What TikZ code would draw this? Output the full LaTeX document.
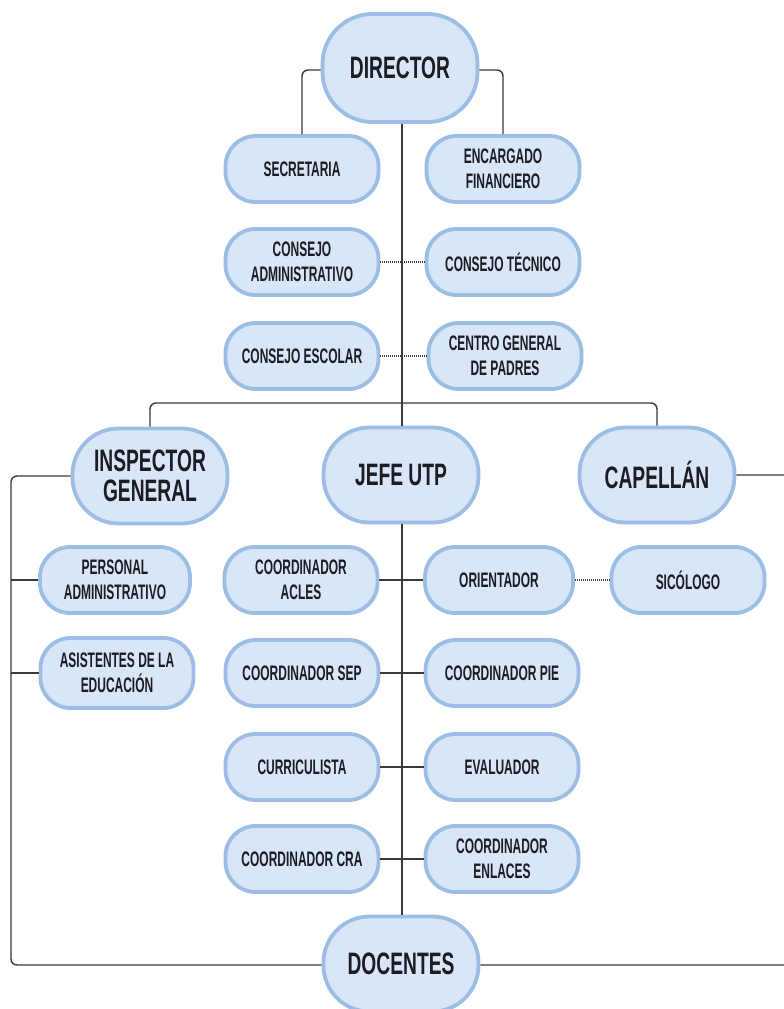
\documentclass[tikz,border=0pt]{standalone}
\usepackage{fontspec}
\setmainfont[FakeStretch=0.57]{Liberation Sans Bold}
\newfontfamily\bigfont[FakeStretch=0.62]{Liberation Sans Bold}
\definecolor{boxfill}{HTML}{D9E6F8}
\definecolor{boxline}{HTML}{9CBEE4}
\definecolor{txt}{HTML}{1C1C22}
\definecolor{conn}{HTML}{3A3A3A}
\begin{document}
\begin{tikzpicture}[x=1pt,y=-1pt,
  base/.style={draw=boxline,fill=boxfill,line width=3.8pt,rounded corners=30pt,
    text=txt,align=center,inner sep=0pt,anchor=center},
  small/.style={base,minimum width=153pt,minimum height=66pt,
    font=\fontsize{21}{25}\selectfont},
  big/.style={base,minimum width=155pt,minimum height=95pt,rounded corners=46pt,
    font=\bigfont\fontsize{31}{30}\selectfont},
  link/.style={draw=conn,line width=1.4pt,rounded corners=6pt},
  dots/.style={draw=conn,line width=1.1pt,dash pattern=on 1pt off 1pt}]
\clip (0,0) rectangle (784,1009);
\fill[white] (0,0) rectangle (784,1009);

\coordinate (bar) at (402,403);
\node[big,minimum height=108pt,rounded corners=50pt] (dir) at (400,68) {DIRECTOR};
\node[small] (sec) at (302,169) {SECRETARIA};
\node[small] (fin) at (503,169) {ENCARGADO\\FINANCIERO};
\node[small] (cadm) at (302,262) {CONSEJO\\ADMINISTRATIVO};
\node[small] (ctec) at (503,262) {CONSEJO TÉCNICO};
\node[small] (cesc) at (302,356) {CONSEJO ESCOLAR};
\node[small] (cgp) at (505,356) {CENTRO GENERAL\\DE PADRES};
\node[big] (insp) at (150,476) {INSPECTOR\\GENERAL};
\node[big] (utp) at (401,475) {JEFE UTP};
\node[big] (cap) at (657,475) {CAPELLÁN};
\node[small,minimum width=150pt] (pers) at (115,580) {PERSONAL\\ADMINISTRATIVO};
\node[small] (acles) at (301,580) {COORDINADOR\\ACLES};
\node[small,minimum width=148pt] (ori) at (499,580) {ORIENTADOR};
\node[small] (sico) at (688,580) {SICÓLOGO};
\node[small,minimum width=153pt,minimum height=70pt] (asis) at (117,673) {ASISTENTES DE LA\\EDUCACIÓN};
\node[small] (sep) at (302,673) {COORDINADOR SEP};
\node[small] (pie) at (502,673) {COORDINADOR PIE};
\node[small] (curr) at (302,767) {CURRICULISTA};
\node[small] (eval) at (502,767) {EVALUADOR};
\node[small] (cra) at (302,859) {COORDINADOR CRA};
\node[small] (enl) at (502,859) {COORDINADOR\\ENLACES};
\node[big] (doc) at (401,964) {DOCENTES};

\path[link] (dir.west |- 0,70) -- (302,70) -- (sec.north);
\path[link] (dir.east |- 0,70) -- (503,70) -- (fin.north);
\path[link] (dir.south -| bar) -- (bar);
\path[link] (bar) -- (utp.north -| bar);
\path[link] (insp.north) -- (insp.north |- bar) -- (bar);
\path[link] (cap.north) -- (cap.north |- bar) -- (bar);
\path[dots] (cadm.east) -- (ctec.west);
\path[dots] (cesc.east) -- (cgp.west);
\path[link] (insp.west) -- (11,476) -- (11,965) -- (doc.west |- 0,965);
\path[link] (cap.east) -- (800,475) -- (800,965) -- (doc.east |- 0,965);
\path[link,rounded corners=0pt] (pers.west) -- (11,580);
\path[link,rounded corners=0pt] (asis.west) -- (11,673);
\path[link,rounded corners=0pt] (utp.south -| bar) -- (doc.north -| bar);
\path[link,rounded corners=0pt] (acles.east) -- (ori.west);
\path[dots] (ori.east) -- (sico.west);
\path[link,rounded corners=0pt] (sep.east) -- (pie.west);
\path[link,rounded corners=0pt] (curr.east) -- (eval.west);
\path[link,rounded corners=0pt] (cra.east) -- (enl.west);
\end{tikzpicture}
\end{document}
